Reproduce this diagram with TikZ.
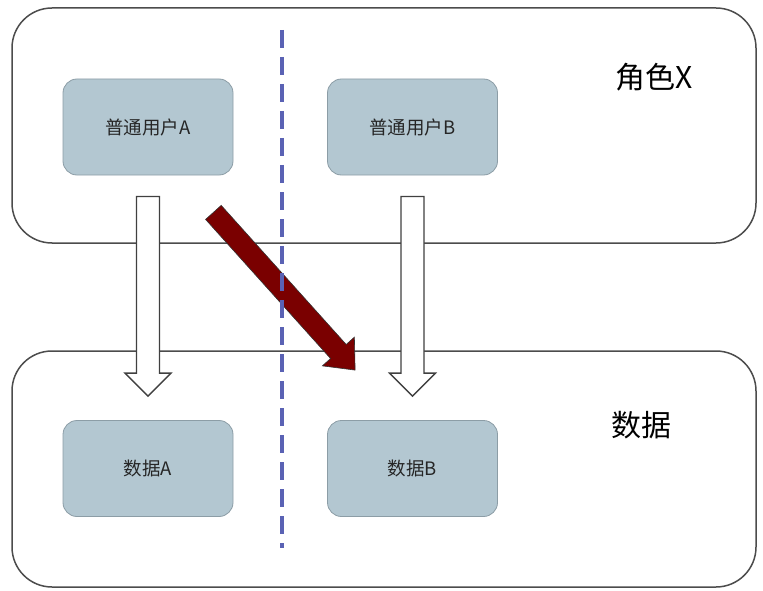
\documentclass[tikz,border=0pt]{standalone}
\usepackage{fontspec}
\setmainfont{Noto Sans CJK SC}
\usetikzlibrary{calc}
\definecolor{cellfill}{HTML}{B3C7D1}
\definecolor{cellline}{HTML}{8C9DA6}
\definecolor{splitblue}{HTML}{5A62B4}
\definecolor{darkred}{HTML}{7A0000}
% block arrow: style, from, to, shaft half width, head half width, head length
\newcommand{\blockarrow}[6]{%
	\coordinate (hb) at ($(#3)!#6!(#2)$);
	\filldraw[#1] ($(#2)!#4!90:(#3)$) -- ($(hb)!#4!90:(#3)$) -- ($(hb)!#5!90:(#3)$) -- (#3)
		-- ($(hb)!#5!-90:(#3)$) -- ($(hb)!#4!-90:(#3)$) -- ($(#2)!#4!-90:(#3)$) -- cycle;
}

\begin{document}
\begin{tikzpicture}[x=1pt,y=-1pt,
		group/.style={draw=black!70,line width=1.5pt,rounded corners=40pt,minimum width=744pt,inner sep=0pt},
		cell/.style={draw=cellline,fill=cellfill,line width=0.8pt,rounded corners=14pt,minimum width=170pt,minimum height=96pt,text=black!85,font=\fontsize{18.5}{21}\selectfont},
		tag/.style={font=\fontsize{30}{34}\selectfont},
		whitearr/.style={draw=black!75,fill=white,line width=1.3pt},
		redarr/.style={draw=black!80,fill=darkred,line width=0.6pt}]
	\useasboundingbox (0,0) rectangle (763,591);
	\node[group,minimum height=235pt] (roles) at (384,125.5) {};
	\node[group,minimum height=236pt] (store) at (384,469) {};
	\node[tag] (rolestag) at (654,77) {角色X};
	\node[tag] (storetag) at (641,425) {数据};
	\foreach \n/\x/\y/\t in {ua/148/127/普通用户A, ub/412.5/127/普通用户B, da/148/468.5/数据A, db/412.5/468.5/数据B} {
		\node[cell] (\n) at (\x,\y) {\t};
	}
	% allowed access
	\coordinate (ua-out) at ($(ua.south)+(0,21)$);
	\coordinate (da-in) at ($(da.north)+(0,-24)$);
	\coordinate (ub-out) at ($(ub.south)+(0,21)$);
	\coordinate (db-in) at ($(db.north)+(0,-24)$);
	\blockarrow{whitearr}{ua-out}{da-in}{11.5pt}{23pt}{23pt}
	\blockarrow{whitearr}{ub-out}{db-in}{11.5pt}{23pt}{23pt}
	% cross access
	\coordinate (cross-out) at ($(ua.south east)+(-20,37)$);
	\coordinate (cross-in) at ($(db.north west)+(28,-50)$);
	\blockarrow{redarr}{cross-out}{cross-in}{10.5pt}{21.5pt}{25pt}
	% split between users
	\coordinate (split-top) at (282,30);
	\coordinate (split-bot) at (282,548);
	\draw[splitblue,line width=3.5pt,dash pattern=on 18pt off 9pt] (split-top) -- (split-bot);
\end{tikzpicture}
\end{document}
